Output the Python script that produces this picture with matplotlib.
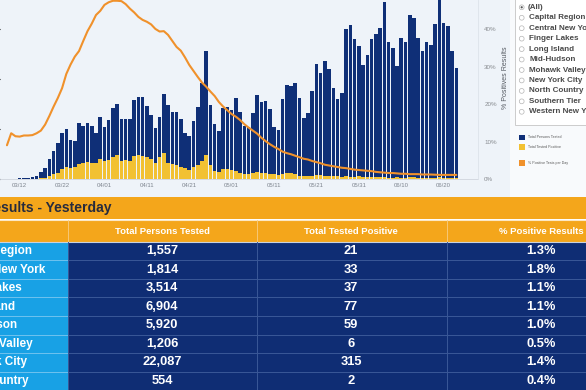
import numpy as np
import matplotlib
matplotlib.use("Agg")
import matplotlib.pyplot as plt
import matplotlib.dates as mdates
from matplotlib.patches import Rectangle, Circle
from matplotlib.ticker import FixedLocator, FuncFormatter

plt.rcParams['font.family'] = ['Liberation Sans', 'DejaVu Sans']

# ---------------- data ----------------
first_day = "2020-03-09"

# daily total persons tested (thousands)
total_tested_k = [
    0.1, 0.2, 0.3, 0.5, 0.6, 0.7, 1.0,
    1.5, 2.9, 4.7, 8.2, 11.5, 14.7, 18.7, 20.2, 15.8, 15.4,
    22.5, 21.4, 22.5, 21.4, 18.7, 24.9, 21.0, 23.8, 28.7, 30.3,
    24.1, 24.3, 24.3, 31.8, 33.1, 33.1, 29.4, 25.7, 20.5, 24.9,
    34.3, 29.7, 26.9, 27.1, 24.1, 18.7, 17.4, 23.4, 28.9, 38.5,
    51.5, 29.8, 22.1, 19.5, 28.7, 29.1, 27.8, 32.5, 27.1, 21.4,
    21.1, 26.5, 33.7, 30.9, 31.4, 28.2, 20.9, 19.7, 32.1, 37.8,
    37.5, 38.7, 32.7, 24.5, 26.5, 35.4, 46.1, 42.7, 47.5, 44.3,
    36.7, 32.1, 34.5, 60.1, 61.8, 56.2, 53.5, 45.7, 49.7, 56.2,
    58.1, 60.7, 71.1, 55.0, 52.7, 45.5, 56.7, 55.1, 65.8, 64.5,
    56.7, 51.4, 55.0, 53.8, 62.2, 73.5, 62.5, 61.4, 51.5, 44.5,
]

# daily total tested positive (thousands)
total_positive_k = [
    0.02, 0.05, 0.05, 0.1, 0.1, 0.15, 0.2,
    0.2, 0.5, 0.7, 1.4, 2.2, 2.7, 4.3, 5.1, 4.5, 5.1,
    6.1, 6.5, 6.9, 6.5, 6.5, 8.2, 7.3, 7.8, 9.1, 9.7,
    7.5, 7.8, 7.5, 9.5, 9.7, 9.5, 9.1, 8.1, 6.5, 9.1,
    10.5, 6.5, 6.2, 5.9, 5.1, 4.5, 3.8, 5.1, 5.7, 7.3,
    9.7, 5.7, 3.5, 3.0, 4.1, 4.1, 3.7, 3.5, 2.7, 2.2,
    2.2, 2.5, 3.0, 2.7, 2.5, 2.2, 2.1, 1.8, 2.2, 2.5,
    2.5, 2.2, 1.5, 1.5, 1.5, 1.5, 1.7, 1.8, 1.5, 1.5,
    1.4, 1.4, 1.1, 1.2, 1.0, 1.1, 1.2, 1.0, 1.0, 1.1,
    1.0, 0.9, 0.8, 0.7, 0.7, 0.8, 0.7, 0.7, 0.8, 0.8,
    0.7, 0.7, 0.7, 0.6, 0.7, 0.8, 0.7, 0.7, 0.6, 0.5,
]

# % positive tests per day (rolling)
pct_positive = [
    9.1, 12.3, 11.5, 11.4, 11.7, 11.7, 11.8,
    12.3, 13.0, 14.6, 16.9, 19.4, 21.7, 24.3, 28.1, 30.6, 32.7,
    34.2, 36.9, 39.5, 41.5, 43.8, 44.9, 46.5, 47.2, 47.6, 47.6,
    47.5, 46.7, 45.5, 44.5, 43.3, 42.5, 42.0, 41.3, 40.1, 39.4,
    39.5, 38.5, 36.9, 35.3, 34.3, 32.5, 30.5, 28.9, 27.3, 25.8,
    24.7, 23.4, 22.2, 20.6, 19.4, 18.4, 17.4, 16.7, 15.8, 14.7,
    13.8, 13.0, 12.2, 11.1, 10.2, 9.4, 8.7, 8.1, 7.4, 7.0,
    6.7, 6.3, 5.9, 5.5, 5.3, 4.9, 4.6, 4.3, 3.9, 3.7,
    3.5, 3.3, 3.1, 3.0, 2.8, 2.6, 2.5, 2.4, 2.3, 2.2,
    2.0, 1.9, 1.8, 1.7, 1.7, 1.6, 1.5, 1.5, 1.4, 1.4,
    1.4, 1.3, 1.3, 1.3, 1.25, 1.2, 1.2, 1.2, 1.2, 1.2,
]

x_tick_dates = ["2020-03-12", "2020-03-22", "2020-04-01", "2020-04-11",
                "2020-04-21", "2020-05-01", "2020-05-11", "2020-05-21",
                "2020-05-31", "2020-06-10", "2020-06-20"]
pct_ticks = [0, 10, 20, 30, 40]

regions = ["Capital Region", "Central New York", "Finger Lakes", "Long Island",
           "Mid-Hudson", "Mohawk Valley", "New York City", "North Country"]
persons_tested = [1557, 1814, 3514, 6904, 5920, 1206, 22087, 554]
tested_positive = [21, 33, 37, 77, 59, 6, 315, 2]
pct_results = [1.3, 1.8, 1.1, 1.1, 1.0, 0.5, 1.4, 0.4]
header_cols = ["Total Persons Tested", "Total Tested Positive", "% Positive Results"]
table_title = "Test Results - Yesterday"

filter_options = ["(All)", "Capital Region", "Central New York", "Finger Lakes",
                  "Long Island", "Mid-Hudson", "Mohawk Valley", "New York City",
                  "North Country", "Southern Tier", "Western New York"]
legend_labels = ["Total Persons Tested", "Total Tested Positive",
                 "% Positive Tests per Day"]

# ---------------- colours ----------------
NAVY = "#0f2f77"
YELLOW = "#f2c132"
ORANGE = "#f0912b"
CHART_BG = "#eef3f9"
PANEL_BG = "#f8fafc"
BAND = "#f4a61b"
CELL_NAVY = "#0f2d74"
CELL_CYAN = "#18a1e5"

W, H = 586, 390
fig = plt.figure(figsize=(W / 100, H / 100), dpi=100)

# background / table axes in pixel coordinates (y downward)
bg = fig.add_axes([0, 0, 1, 1], zorder=0)
bg.set_xlim(0, W)
bg.set_ylim(H, 0)
bg.axis("off")

def rect(x, y, w, h, **kw):
    bg.add_patch(Rectangle((x, y), w, h, **kw))

rect(0, 0, 510, 197, color=CHART_BG, lw=0)
rect(510, 0, 76, 197, color=PANEL_BG, lw=0)

# ---------------- chart ----------------
base_h = 179.4
ax = fig.add_axes([0, (H - base_h) / H, 478 / W, base_h / H], zorder=2)
ax.patch.set_visible(False)
dates = np.datetime64(first_day) + np.arange(len(total_tested_k))
xnum = mdates.date2num(dates)
x0 = mdates.date2num(np.datetime64("2020-03-12"))

ax.bar(xnum, total_tested_k, width=0.84, color=NAVY, lw=0, zorder=2)
ax.bar(xnum, total_positive_k, width=0.84, color=YELLOW, lw=0, zorder=3)
ax.set_xlim(x0 - 4.64, x0 + 108.1)
ax.set_ylim(0, 71.8)
tick_pos = mdates.date2num(np.array(x_tick_dates, dtype="datetime64[D]"))
ax.xaxis.set_major_locator(FixedLocator(tick_pos))
ax.xaxis.set_major_formatter(mdates.DateFormatter("%m/%d"))
ax.tick_params(axis="x", length=0, pad=2.5, labelsize=4.3, labelcolor="#7d848e")
ax.tick_params(axis="y", left=False, labelleft=False)
for s in ["top", "left", "right"]:
    ax.spines[s].set_visible(False)
ax.spines["bottom"].set_color("#cfd5dd")
ax.spines["bottom"].set_linewidth(0.6)

ax2 = ax.twinx()
ax2.set_zorder(3)
ax2.patch.set_visible(False)
ax2.plot(xnum, pct_positive, color=ORANGE, lw=1.5, solid_capstyle="round")
ax2.set_ylim(0, 47.8)
ax2.yaxis.set_major_locator(FixedLocator(pct_ticks))
ax2.yaxis.set_major_formatter(FuncFormatter(lambda v, p: f"{v:.0f}%"))
ax2.tick_params(axis="y", length=0, pad=4.5, labelsize=4.5, labelcolor="#8a8d92")
for s in ["top", "left", "bottom"]:
    ax2.spines[s].set_visible(False)
ax2.spines["right"].set_color("#dde3ea")
ax2.spines["right"].set_linewidth(0.6)

fig.text(505 / W, 1 - 78 / H, "% Positives Results", rotation=90,
         ha="center", va="center", fontsize=5, color="#555a62")

# ---------------- filter box ----------------
rect(515, -3, 80, 128, facecolor="white", edgecolor="#cccccc", lw=0.7)
for i, name in enumerate(filter_options):
    yy = 7.3 + 10.45 * i
    bg.add_patch(Circle((521.7, yy), 2.4, facecolor="white",
                        edgecolor="#b5b5b5", lw=0.5))
    if i == 0:
        bg.add_patch(Circle((521.7, yy), 1.1, color="#555555", lw=0))
    bg.text(527.5 if i == 0 else 529, yy, name, fontsize=5.8, fontweight="bold",
            color="#4a4a4a", ha="left", va="center")

# ---------------- legend ----------------
leg_colors = [NAVY, YELLOW, ORANGE]
leg_y = [137.3, 147.0, 163.0]
for c, lab, yy in zip(leg_colors, legend_labels, leg_y):
    rect(519.3, yy - 2.7, 5.4, 5.4, color=c, lw=0)
    bg.text(528.5, yy, lab, fontsize=2.6, color="#555555", ha="left", va="center")

# ---------------- table ----------------
rect(0, 196.7, W, 22.6, color=BAND, lw=0)
bg.text(-48.5, 207.8, table_title, fontsize=10, fontweight="bold",
        color="#262b3d", ha="left", va="center")
bg.plot([0, W], [219.6, 219.6], color="#fbe7c4", lw=0.8)
rect(0, 220, W, 21.7, color=BAND, lw=0)

col_edges = [0, 67.7, 257, 446.7, W]
col_centers = [162, 351, 541]
for xe in col_edges[1:4]:
    bg.plot([xe, xe], [220, 241.7], color="#f7cd85", lw=0.6)
for cx, lab in zip(col_centers, header_cols):
    bg.text(cx, 231.3, lab, fontsize=6.8, fontweight="bold", color="white",
            ha="center", va="center")

row_h = 18.57
top = 241.7
for i, name in enumerate(regions):
    y0 = top + row_h * i
    rect(0, y0, col_edges[1], row_h, color=CELL_CYAN, lw=0)
    rect(col_edges[1], y0, W - col_edges[1], row_h, color=CELL_NAVY, lw=0)
    bg.plot([0, col_edges[1]], [y0, y0], color="#6fc3ef", lw=0.7)
    bg.plot([col_edges[1], W], [y0, y0], color="#3a5898", lw=0.7)
    yc = y0 + row_h / 2
    bg.text(-51, yc, name, fontsize=8.5, fontweight="bold", color="white",
            ha="left", va="center")
    vals = [f"{persons_tested[i]:,}", f"{tested_positive[i]}", f"{pct_results[i]:.1f}%"]
    for cx, v in zip(col_centers, vals):
        bg.text(cx, yc, v, fontsize=9.3, fontweight="bold", color="white",
                ha="center", va="center")
bg.plot([0, W], [top, top], color="#c9d2de", lw=0.8)
for xe in col_edges[1:4]:
    bg.plot([xe, xe], [top, H], color="#3a5898", lw=0.7)

fig.savefig("out.png", dpi=100)
